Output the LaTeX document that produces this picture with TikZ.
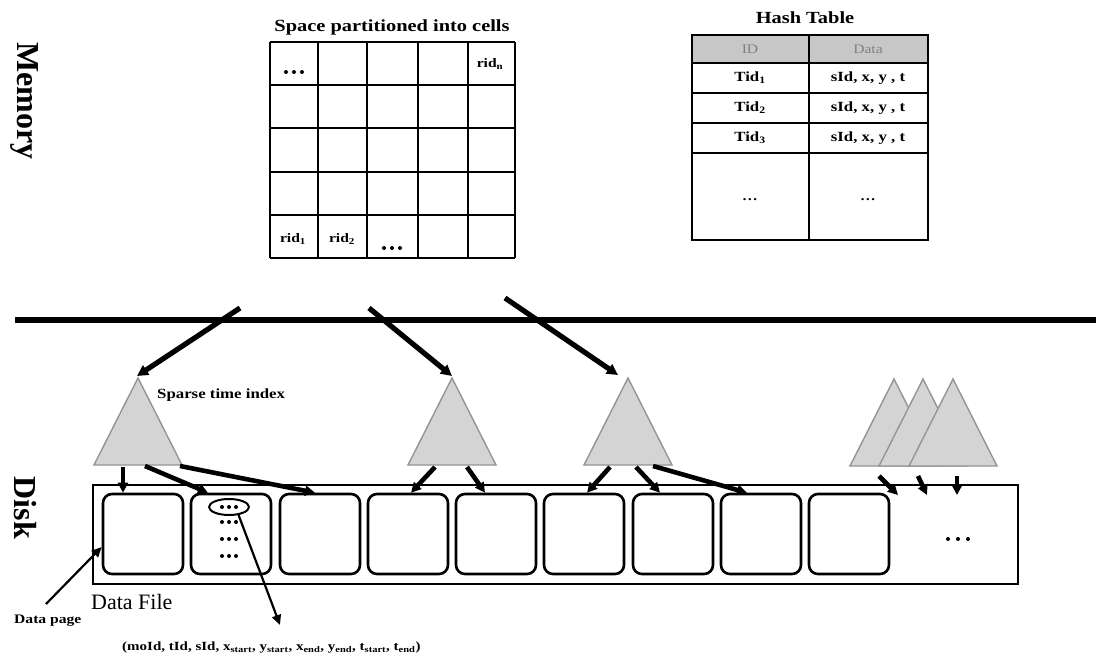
\documentclass[tikz,border=0pt]{standalone}
\usepackage{fontspec}
\setmainfont{Liberation Serif}
\newfontfamily\wb[FakeStretch=1.2]{Liberation Serif}
\usetikzlibrary{arrows.meta,shapes.geometric}
\newcommand\dotrow[3]{\fill (#1-#3,#2) circle (2pt) (#1,#2) circle (2pt) (#1+#3,#2) circle (2pt);}
\begin{document}
\begin{tikzpicture}[x=1pt,y=-1pt,
  gridl/.style={line width=2.6pt},
  tbl/.style={line width=2pt},
  tri/.style={fill=black!17,draw=black!42,line width=1.4pt},
  arr/.style={-{Triangle[length=11pt,width=11pt]},line width=5.2pt},
  sarr/.style={-{Triangle[length=10pt,width=10pt]},line width=4.6pt},
  thin arr/.style={-{Triangle[length=10pt,width=9pt]},line width=2.2pt},
  page/.style={draw,rounded corners=9pt,minimum width=80pt,minimum height=80pt,line width=2.6pt,inner sep=0pt},
  ttl/.style={font=\wb\bfseries\fontsize{17}{19}\selectfont},
  cell/.style={font=\wb\bfseries\fontsize{13}{15}\selectfont,inner sep=0pt},
  hcell/.style={font=\wb\bfseries\fontsize{14}{16}\selectfont,inner sep=0pt},
  side/.style={font=\bfseries\fontsize{32}{34}\selectfont,rotate=-90}
]
\useasboundingbox (0,0) rectangle (1096,659);

% side labels
\node[side] (mem) at (25,101) {Memory};
\node[side] (disk) at (25,508) {Disk};

% grid of cells
\node[ttl] (gtitle) at (392,27) {Space partitioned into cells};
\node[minimum width=245pt,minimum height=216pt,inner sep=0pt] (grid) at (392.5,150) {};
\foreach \x in {270,318,367,418,468,515} \draw[gridl] (\x,42) -- (\x,258);
\foreach \y in {42,85,128,172,215,258} \draw[gridl] (270,\y) -- (515,\y);
\dotrow{294}{72}{8}
\node[cell] (c40) at (490,64) {rid\textsubscript{n}};
\node[cell] (c04) at (293,239) {rid\textsubscript{1}};
\node[cell] (c14) at (342,239) {rid\textsubscript{2}};
\dotrow{392}{248}{8}

% hash table
\node[ttl] (htitle) at (805,18) {Hash Table};
\fill[black!22] (692,35) rectangle (928,63);
\draw[tbl] (692,35) rectangle (928,240);
\foreach \y in {63,93,123,153} \draw[tbl] (692,\y) -- (928,\y);
\draw[tbl] (809,35) -- (809,240);
\node[inner sep=0pt,text=black!50,font=\wb\fontsize{13}{15}\selectfont] (hid) at (750,49) {ID};
\node[inner sep=0pt,text=black!50,font=\wb\fontsize{13}{15}\selectfont] (hdata) at (868,49) {Data};
\foreach \i/\y in {1/78,2/108,3/138}{
  \node[hcell] (tid\i) at (750,\y) {Tid\textsubscript{\i}};
  \node[hcell] (dat\i) at (868,\y) {sId, x, y , t};
}
\node[hcell] (hd1) at (750,200) {\fontsize{13}{13}\selectfont\ldots};
\node[hcell] (hd2) at (868,200) {\fontsize{13}{13}\selectfont\ldots};

% memory / disk divider
\coordinate (divl) at (15,320);
\coordinate (divr) at (1096,320);
\draw[line width=5.5pt] (divl) -- (divr);

% triangles (sparse time indexes)
\coordinate (t1) at (138,378);
\coordinate (t2) at (452,378);
\coordinate (t3) at (628,378);
\draw[tri] (t1) -- (94,465) -- (182,465) -- cycle;
\draw[tri] (t2) -- (408,465) -- (496,465) -- cycle;
\draw[tri] (t3) -- (584,465) -- (672,465) -- cycle;
\coordinate (t4) at (894,379);
\coordinate (t5) at (923,379);
\coordinate (t6) at (953,379);
\draw[tri] (t4) -- (850,466) -- (938,466) -- cycle;
\draw[tri] (t5) -- (879,466) -- (967,466) -- cycle;
\draw[tri] (t6) -- (909,466) -- (997,466) -- cycle;
\node[font=\wb\bfseries\fontsize{14}{16}\selectfont,anchor=west,inner sep=0pt] (sti) at (157,395) {Sparse time index};

% arrows from memory to indexes
\coordinate (g1) at (240,308);
\coordinate (g2) at (369,308);
\coordinate (g3) at (505,298);
\draw[arr] (g1) -- ([xshift=-1pt,yshift=2pt]t1);
\draw[arr] (g2) -- ([yshift=2pt]t2);
\draw[arr] (g3) -- ([xshift=-10pt,yshift=3pt]t3);

% data file
\node[draw,line width=1.8pt,minimum width=925pt,minimum height=99pt,inner sep=0pt] (file) at (555.5,534.5) {};
\foreach \i/\x in {1/143,2/231,3/320,4/408,5/496,6/584,7/673,8/761,9/849}
  \node[page] (p\i) at (\x,534) {};
\dotrow{958}{539}{10}
\node[font=\fontsize{22}{24}\selectfont,anchor=west,inner sep=0pt] (dfile) at (91,602) {Data File};

% records in page 2
\node[draw,ellipse,line width=2pt,minimum width=40pt,minimum height=16pt,inner sep=0pt] (el) at (229,507) {};
\foreach \y in {507,522,539,556} {\dotrow{229}{\y}{7}}

% arrows from indexes to pages
\coordinate (a1) at (123,467);
\coordinate (a2) at (145,466);
\coordinate (a3) at (180,466);
\draw[sarr] (a1) -- ([xshift=-20pt]p1.north);
\draw[sarr] (a2) -- ([xshift=-23pt]p2.north);
\draw[sarr] (a3) -- ([xshift=-5pt]p3.north);
\coordinate (b1) at (435,467);
\coordinate (b2) at (467,467);
\draw[sarr] (b1) -- ([xshift=3pt]p4.north);
\draw[sarr] (b2) -- ([xshift=-11pt]p5.north);
\coordinate (c1) at (610,467);
\coordinate (c2) at (636,467);
\coordinate (c3) at (653,466);
\draw[sarr] (c1) -- ([xshift=3pt]p6.north);
\draw[sarr] (c2) -- ([xshift=-13pt]p7.north);
\draw[sarr] (c3) -- ([xshift=-14pt]p8.north);
\coordinate (d1s) at (879,476);
\coordinate (d1e) at (898,495);
\coordinate (d2s) at (918,476);
\coordinate (d2e) at (927,495);
\coordinate (d3s) at (957,476);
\coordinate (d3e) at (957,495);
\draw[sarr] (d1s) -- (d1e);
\draw[sarr] (d2s) -- (d2e);
\draw[sarr] (d3s) -- (d3e);

% data page label
\node[font=\wb\bfseries\fontsize{13}{15}\selectfont,anchor=west,inner sep=0pt] (dpage) at (14,621) {Data page};
\coordinate (dps) at (46,604);
\draw[thin arr] (dps) -- ([yshift=-13pt]p1.west);

% record tuple
\coordinate (rec) at (280,625);
\draw[thin arr] (el.-40) -- (rec);
\node[font=\wb\bfseries\fontsize{12.5}{14}\selectfont,anchor=west,inner sep=0pt] (tuple) at (122,648)
  {(moId, tId, sId, x\textsubscript{start}, y\textsubscript{start}, x\textsubscript{end}, y\textsubscript{end}, t\textsubscript{start}, t\textsubscript{end})};
\end{tikzpicture}
\end{document}
